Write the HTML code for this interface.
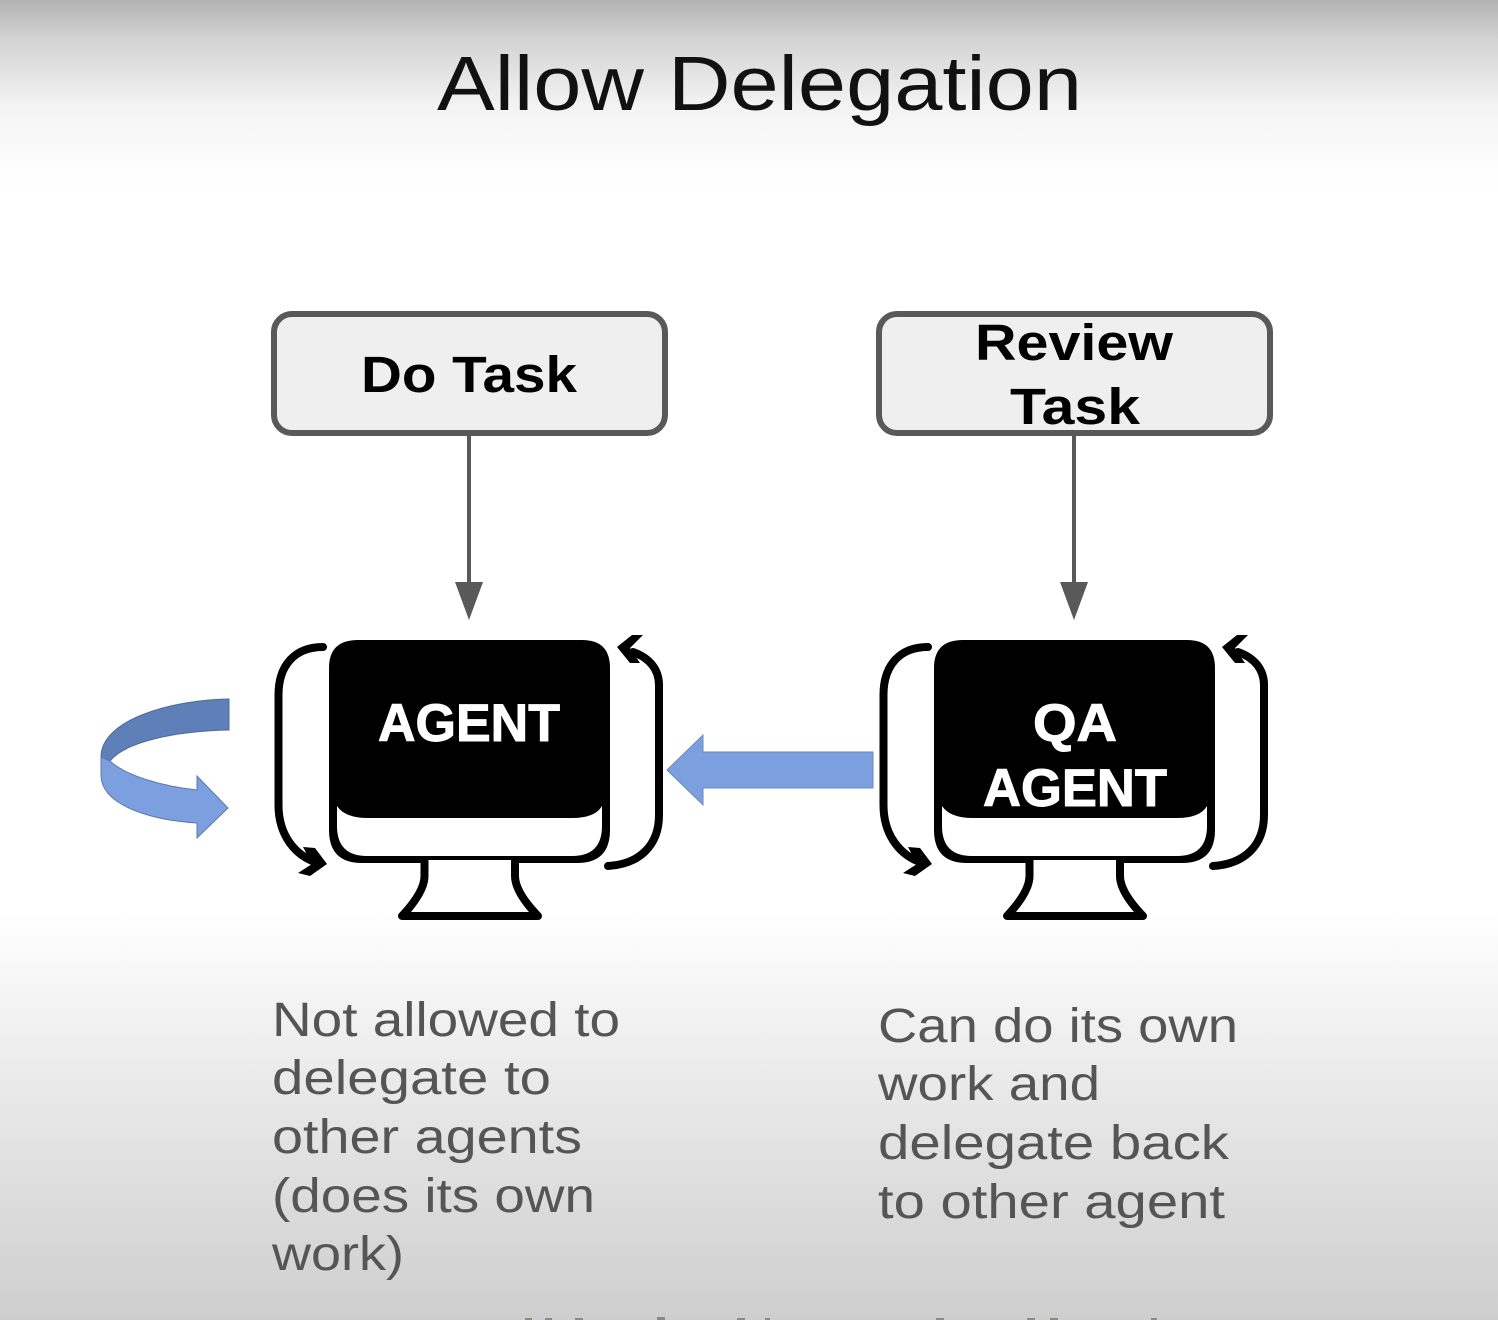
<!DOCTYPE html>
<html><head><meta charset="utf-8"><style>
html,body{margin:0;padding:0;width:1498px;height:1320px;overflow:hidden;background:#fff}
svg{display:block}
text{font-family:"Liberation Sans",sans-serif}
</style></head><body>
<svg width="1498" height="1320" viewBox="0 0 1498 1320" xmlns="http://www.w3.org/2000/svg">
<defs>
<linearGradient id="bg" x1="0" y1="0" x2="0" y2="1320" gradientUnits="userSpaceOnUse">
<stop offset="0" stop-color="#b3b3b3"/><stop offset=".03" stop-color="#d3d3d3"/><stop offset=".08" stop-color="#f3f3f3"/><stop offset=".13" stop-color="#fefefe"/><stop offset=".15" stop-color="#fff"/>
<stop offset=".69" stop-color="#fff"/><stop offset=".78" stop-color="#f0f0f0"/><stop offset="1" stop-color="#cecece"/>
</linearGradient>
<g id="mon">
<path d="M358 640H582Q610 640 610 668V830Q610 863 577 863H362Q329 863 329 830V668Q329 640 358 640Z" fill="#000"/>
<path d="M337 806Q345 818 368 818H572Q595 818 602 806V826Q602 856 572 856H367Q337 856 337 826Z" fill="#fff"/>
<path d="M424.500 860V876Q424.500 892 402 916H538Q515 892 515 876V860" fill="#fff" stroke="#000" stroke-width="8" stroke-linejoin="round"/>
<g fill="none" stroke="#000" stroke-width="8" stroke-linecap="round" stroke-linejoin="round">
<path d="M323 647C295 647 278.500 665 278.500 695V805C278.500 835 295 856 318 863"/>
<path d="M608 866C640 864 659 845 659 815V685C659 670 650 658 633 652"/>
</g>
<path d="M303 847L315 848L327 864L310 876L298 873L312 864Z" fill="#000"/>
<path d="M617 647L632 635L643 635L630 648L640 663L630 663Z" fill="#000"/>
</g>
</defs>
<rect width="1498" height="1320" fill="url(#bg)"/>
<text x="437" y="110" font-size="77" fill="#111" textLength="645" lengthAdjust="spacingAndGlyphs">Allow Delegation</text>

<rect x="274" y="314" width="391" height="119" rx="18" fill="#efefef" stroke="#595959" stroke-width="6"/>
<rect x="879" y="314" width="391" height="119" rx="18" fill="#efefef" stroke="#595959" stroke-width="6"/>
<g font-size="51" font-weight="bold" fill="#000">
<text x="361" y="392" textLength="216" lengthAdjust="spacingAndGlyphs">Do Task</text>
<text x="975" y="360" textLength="198" lengthAdjust="spacingAndGlyphs">Review</text>
<text x="1010" y="424" textLength="130" lengthAdjust="spacingAndGlyphs">Task</text>
</g>

<path d="M469 435V585" stroke="#595959" stroke-width="4" fill="none"/>
<path d="M455 582H483L469 620Z" fill="#595959"/>
<path d="M1074 435V585" stroke="#595959" stroke-width="4" fill="none"/>
<path d="M1060 582H1088L1074 620Z" fill="#595959"/>

<use href="#mon"/>
<use href="#mon" x="605"/>
<g font-size="53" font-weight="bold" fill="#fff" stroke="#fff" stroke-width="1">
<text x="378" y="741" textLength="182" lengthAdjust="spacingAndGlyphs">AGENT</text>
<text x="1033" y="741" textLength="84" lengthAdjust="spacingAndGlyphs">QA</text>
<text x="983" y="806" textLength="184" lengthAdjust="spacingAndGlyphs">AGENT</text>
</g>

<path d="M873 752V788H703V805L667 770L703 735V752Z" fill="#7c9fe0" stroke="#6a88bd" stroke-width="1"/>
<path d="M229 699C170 700 101 720 101 757L110 761C125 742 175 731 229 730Z" fill="#5f7fb8" stroke="#4f6a98" stroke-width="1"/>
<path d="M101 757L110 761C125 775 160 786 197 790V776L228 808L197 838V823C150 820 101 805 101 775Z" fill="#7c9fe0" stroke="#5f7aa8" stroke-width="1"/>

<g font-size="48" fill="#555">
<text x="272" y="1036" textLength="348" lengthAdjust="spacingAndGlyphs">Not allowed to</text>
<text x="272" y="1094" textLength="279" lengthAdjust="spacingAndGlyphs">delegate to</text>
<text x="272" y="1153" textLength="310" lengthAdjust="spacingAndGlyphs">other agents</text>
<text x="272" y="1212" textLength="323" lengthAdjust="spacingAndGlyphs">(does its own</text>
<text x="272" y="1270" textLength="132" lengthAdjust="spacingAndGlyphs">work)</text>
<text x="878" y="1042" textLength="360" lengthAdjust="spacingAndGlyphs">Can do its own</text>
<text x="878" y="1100" textLength="222" lengthAdjust="spacingAndGlyphs">work and</text>
<text x="878" y="1159" textLength="351" lengthAdjust="spacingAndGlyphs">delegate back</text>
<text x="878" y="1218" textLength="347" lengthAdjust="spacingAndGlyphs">to other agent</text>
</g>
<g fill="#8a8a86">
<rect x="525" y="1318" width="7" height="2"/><rect x="545" y="1318" width="7" height="2"/><rect x="575" y="1318" width="8" height="2"/><rect x="657" y="1317" width="8" height="3"/><rect x="737" y="1318" width="8" height="2"/><rect x="765" y="1318" width="5" height="2"/><rect x="936" y="1318" width="8" height="2"/><rect x="1027" y="1318" width="8" height="2"/><rect x="1050" y="1318" width="8" height="2"/><rect x="1151" y="1318" width="6" height="2"/>
</g>
</svg>
</body></html>
